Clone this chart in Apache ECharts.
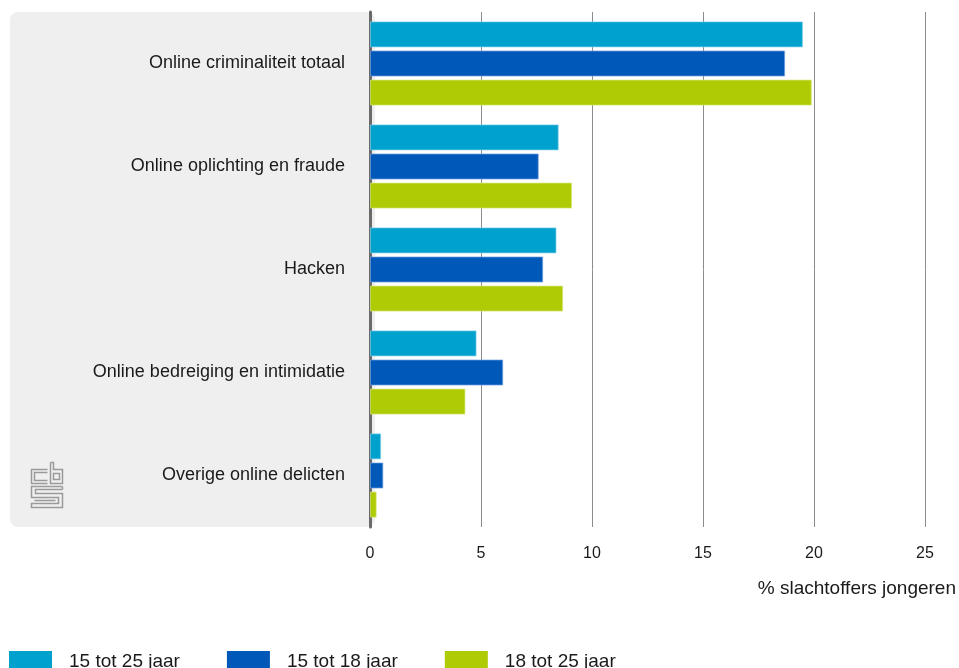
<!DOCTYPE html>
<html>
<head>
<meta charset="utf-8">
<script src="https://cdn.jsdelivr.net/npm/echarts@6/dist/echarts.min.js"></script>
<style>
  html, body { margin: 0; padding: 0; background: #fff; }
  #chart { width: 959px; height: 668px; }
</style>
</head>
<body>
<div id="chart"></div>
<script>
// Slachtofferschap online criminaliteit onder jongeren (%)
const categories = [
  'Online criminaliteit totaal',
  'Online oplichting en fraude',
  'Hacken',
  'Online bedreiging en intimidatie',
  'Overige online delicten'
];
const seriesNames = ['15 tot 25 jaar', '15 tot 18 jaar', '18 tot 25 jaar'];
const age15to25 = [19.5, 8.5, 8.4, 4.8, 0.5];
const age15to18 = [18.7, 7.6, 7.8, 6.0, 0.6];
const age18to25 = [19.9, 9.1, 8.7, 4.3, 0.3];
const xTicks = [0, 5, 10, 15, 20, 25];

const colors = ['#00a1cd', '#0058b8', '#afcb05'];
const edgeColors = ['rgba(120,205,235,0.7)', 'rgba(110,160,225,0.7)', 'rgba(215,230,120,0.7)'];
const FONT = '"Liberation Sans", "DejaVu Sans", sans-serif';
const LOGO = { stroke: '#9a9a9a', lineWidth: 1.5, fill: null };

const chart = echarts.init(document.getElementById('chart'), null, { renderer: 'canvas' });

const values = [age15to25, age15to18, age18to25];

chart.setOption({
  animation: false,
  textStyle: { fontFamily: FONT },
  grid: { left: 370, right: 33, top: 12, bottom: 141, containLabel: false },
  graphic: [
    {
      type: 'rect', z: -10,
      shape: { x: 10, y: 12, width: 365, height: 515, r: 8 },
      style: { fill: '#efefef' }
    },
    {
      // cbs beeldmerk
      type: 'group', left: 29, top: 460, z: -5,
      children: [
        { type: 'polyline', shape: { points: [[16, 7], [0, 7], [0, 21], [16, 21]] }, style: LOGO },
        { type: 'polyline', shape: { points: [[16, 10], [3, 10], [3, 18], [16, 18]] }, style: LOGO },
        { type: 'polyline', shape: { points: [[19, 0], [22, 0], [22, 7], [31, 7], [31, 21], [19, 21], [19, 0]] }, style: LOGO },
        { type: 'rect', shape: { x: 22, y: 11, width: 6, height: 6 }, style: LOGO },
        { type: 'polyline', shape: { points: [[31, 24], [0, 24], [0, 35], [27, 35], [27, 41], [0, 41], [0, 45], [31, 45], [31, 31], [4, 31], [4, 27], [31, 27]] }, style: LOGO },
        { type: 'polyline', shape: { points: [[31, 24], [31, 27]] }, style: LOGO },
        { type: 'polyline', shape: { points: [[3, 38], [24, 38]] }, style: LOGO }
      ]
    }
  ],
  legend: {
    left: 4, top: 646,
    itemWidth: 43, itemHeight: 22, itemGap: 47,
    icon: 'rect',
    data: seriesNames,
    itemStyle: { borderWidth: 0 },
    textStyle: { fontFamily: FONT, fontSize: 19, color: '#1a1a1a', padding: [0, 0, 0, 12] }
  },
  xAxis: {
    type: 'value',
    min: 0, max: 25, interval: 5,
    name: '% slachtoffers jongeren',
    nameLocation: 'end',
    nameGap: 0,
    nameTextStyle: {
      fontFamily: FONT, fontSize: 19, color: '#1a1a1a',
      align: 'right', verticalAlign: 'top', padding: [52, -31, 0, 0]
    },
    axisLine: { show: false },
    axisTick: { show: false },
    axisLabel: {
      fontFamily: FONT, fontSize: 16, color: '#1a1a1a', margin: 19,
      formatter: v => xTicks.includes(v) ? String(v) : ''
    },
    splitLine: { show: true, lineStyle: { color: '#8c8c8c', width: 1 } }
  },
  yAxis: {
    type: 'category',
    data: categories,
    inverse: true,
    axisLine: { show: true, lineStyle: { color: '#6a6a6a', width: 3 } },
    axisTick: { show: false },
    axisLabel: { fontFamily: FONT, fontSize: 18, color: '#1a1a1a', margin: 25, padding: [4, 0, 0, 0] },
    splitLine: { show: false }
  },
  series: seriesNames.map((name, i) => ({
    name,
    type: 'bar',
    data: values[i],
    barWidth: 26,
    barGap: '12%',
    itemStyle: { color: colors[i], borderColor: edgeColors[i], borderWidth: 1 },
    emphasis: { disabled: true }
  }))
});
</script>
</body>
</html>
